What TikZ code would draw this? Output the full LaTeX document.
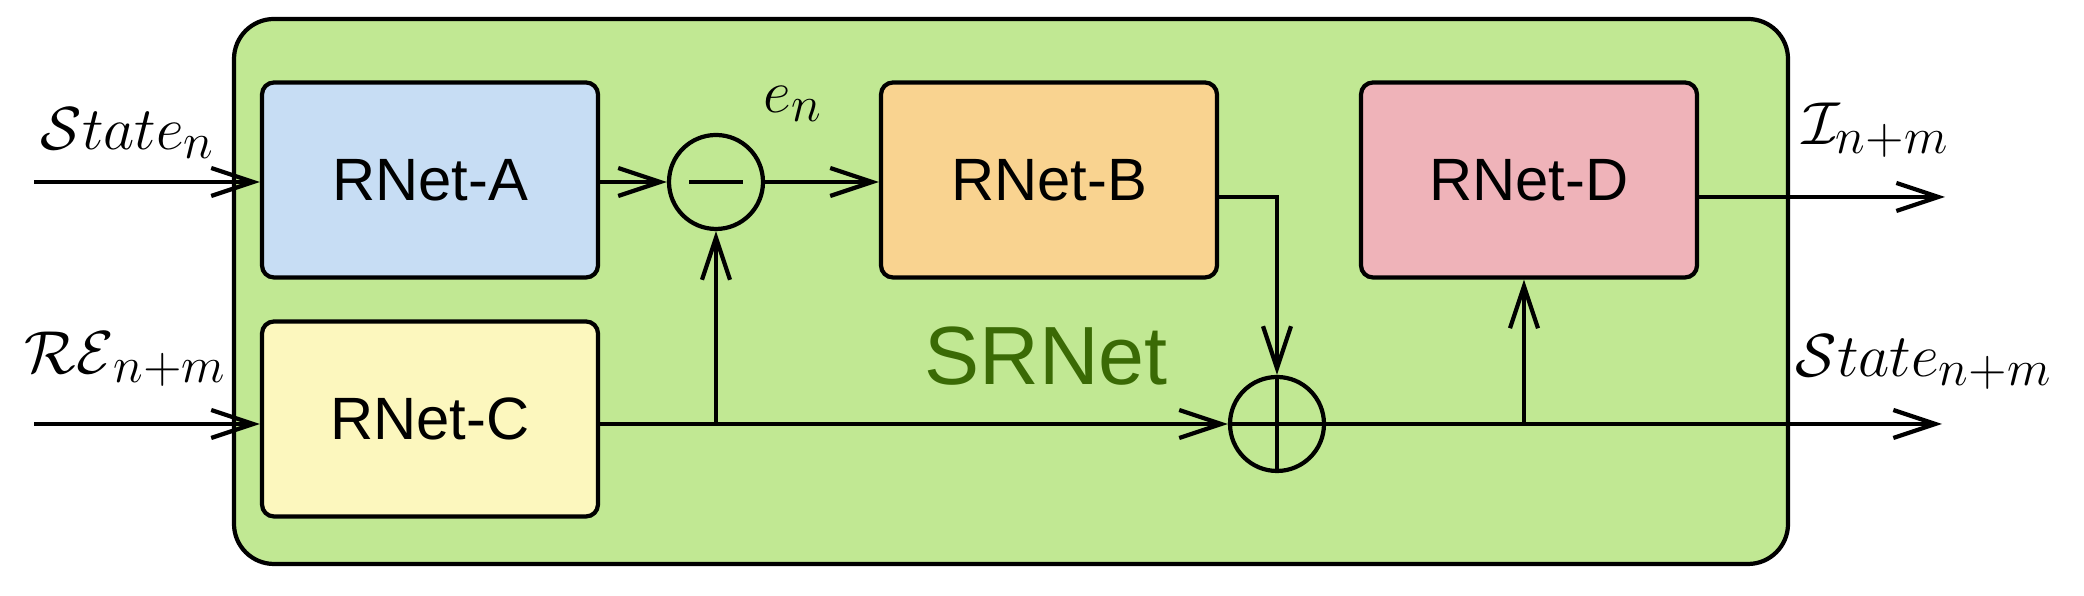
\documentclass[tikz,border=0pt]{standalone}
\usepackage{fontspec}
\setsansfont{Liberation Sans}
\usetikzlibrary{arrows.meta, positioning, shapes.geometric, calc}
\definecolor{outerbg}{HTML}{C1E893}
\definecolor{labelgreen}{HTML}{3A6A05}
\definecolor{netablue}{HTML}{C7DDF4}
\definecolor{netborange}{HTML}{F9D390}
\definecolor{netcyellow}{HTML}{FCF7BE}
\definecolor{netdpink}{HTML}{EFB3B9}

\begin{document}
\begin{tikzpicture}[
    every node/.style={font=\sffamily\fontsize{17}{20}\selectfont},
    outer/.style={rectangle, rounded corners=0.4cm, draw=black, line width=1.2pt, fill=outerbg, minimum width=15.54cm, minimum height=5.45cm},
    netbox/.style={rectangle, rounded corners=0.12cm, draw=black, line width=1.2pt, minimum width=3.36cm, minimum height=1.95cm, inner sep=0pt},
    junction/.style={circle, draw=black, line width=1.2pt, minimum size=0.94cm, inner sep=0pt},
    arr/.style={-{Straight Barb[length=4.2mm, width=2.8mm, line width=1.2pt]}, line width=1.2pt},
    ln/.style={line width=1.2pt},
    sig/.style={font=\fontsize{19}{23}\selectfont, inner sep=1pt}
]
\useasboundingbox (0,0) rectangle (20.84,5.96);

\node[outer] (srnet) at (10.11, 3.045) {};
\node[font=\sffamily\fontsize{23.5}{28}\selectfont, text=labelgreen] (srlbl) at (10.46, 2.40) {SRNet};

\node[netbox, fill=netablue] (neta) at (4.30, 4.16) {RNet-A};
\node[netbox, fill=netcyellow] (netc) at (4.30, 1.77) {RNet-C};
\node[netbox, fill=netborange] (netb) at (10.49, 4.16) {RNet-B};
\node[netbox, fill=netdpink] (netd) at (15.29, 4.16) {RNet-D};

\node[junction] (minus) at (7.16, 4.14) {};
\node[junction] (plus) at (12.77, 1.72) {};
\draw[ln] ($(minus.center)+(-0.27,0)$) -- ($(minus.center)+(0.27,0)$);
\draw[ln] (plus.north) -- (plus.south);
\draw[ln] (plus.west) -- (plus.east);

\coordinate (instate) at (0.34, 4.14);
\coordinate (inre) at (0.34, 1.72);
\coordinate (outi) at (19.45, 3.99);
\coordinate (outstate) at (19.42, 1.72);
\coordinate (bout) at (12.17, 3.99);
\coordinate (dout) at (16.97, 3.99);
\coordinate (ctap) at (7.16, 1.72);
\coordinate (dtap) at (15.24, 1.72);

\node[sig] (lblstate) at (1.28, 4.63) {$\mathcal{S}tate_n$};
\node[sig] (lblre) at (1.26, 2.37) {$\mathcal{RE}_{n+m}$};
\node[sig] (lblen) at (7.93, 4.92) {$e_n$};
\node[sig] (lbli) at (18.76, 4.66) {$\mathcal{I}_{n+m}$};
\node[sig] (lblout) at (19.24, 2.34) {$\mathcal{S}tate_{n+m}$};

\draw[arr] (instate) -- (instate -| neta.west);
\draw[arr] (inre) -- (inre -| netc.west);
\draw[arr] (neta.east |- minus) -- (minus);
\draw[arr] (minus) -- (minus -| netb.west);
\draw[ln] (netc.east |- plus) -- (ctap);
\draw[arr] (ctap) -- (plus);
\draw[arr] (ctap) -- (minus);
\draw[arr] (bout) -| (plus);
\draw[ln] (plus) -- (dtap);
\draw[arr] (dtap) -- (dtap |- netd.south);
\draw[arr] (dtap) -- (outstate);
\draw[arr] (dout) -- (outi);
\end{tikzpicture}
\end{document}
